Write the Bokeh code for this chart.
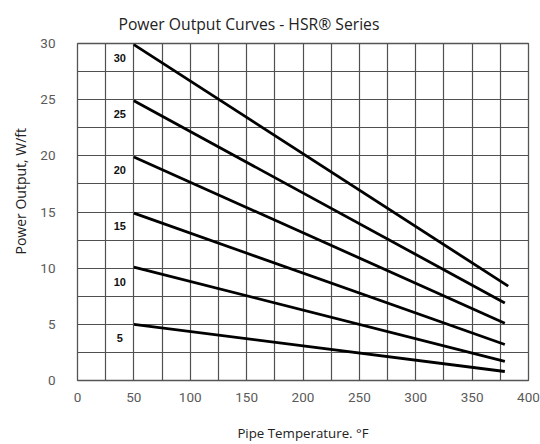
import numpy as np
from bokeh.plotting import figure
from bokeh.models import FixedTicker, Range1d, Title, ColumnDataSource
from bokeh.core.properties import value
from bokeh.embed import file_html
from bokeh.resources import INLINE

# ---- data ----
series_labels = ["30", "25", "20", "15", "10", "5"]
start_temp = [50, 50, 50, 50, 50, 50]
end_temp = [382, 379, 379, 379, 379, 379]
start_output = [29.9, 24.9, 19.9, 14.9, 10.1, 5.0]
end_output = [8.4, 6.9, 5.1, 3.2, 1.7, 0.8]
x_ticks = [0, 50, 100, 150, 200, 250, 300, 350, 400]
y_ticks = [0, 5, 10, 15, 20, 25, 30]
label_temp = 37.5
label_offset = 1.25
title_text = "Power Output Curves - HSR\u00ae Series"
y_title = "Power Output, W/ft"
x_title = "Pipe Temperature. \u00b0F"

p = figure(width=540, height=444, output_backend="svg", toolbar_location=None,
           x_range=Range1d(0, 400), y_range=Range1d(0, 30),
           min_border_left=76, min_border_right=12, min_border_top=43, min_border_bottom=62)

p.title.text = title_text
p.title.align = "left"
p.title.offset = 41
p.title.standoff = 18
p.title.text_font = "Open Sans"
p.title.text_font_size = "15.7px"
p.title.text_font_style = "normal"
p.title.text_color = "#222222"

p.add_layout(Title(text=y_title, align="left", offset=126, standoff=16,
                   text_font="Open Sans", text_font_size="14px",
                   text_font_style="normal", text_color="#222222"), "left")

p.outline_line_color = "#555555"
p.outline_line_width = 1.3
p.background_fill_color = "white"
p.border_fill_color = "white"

for ax in (p.xaxis, p.yaxis):
    ax.axis_line_color = None
    ax.major_tick_line_color = None
    ax.minor_tick_line_color = None
    ax.major_label_text_font = "Roboto"
    ax.major_label_text_font_size = "13.5px"
    ax.major_label_text_color = "#5a5a5a"

p.xaxis.ticker = FixedTicker(ticks=x_ticks)
p.yaxis.ticker = FixedTicker(ticks=y_ticks)
p.xaxis.major_label_standoff = 6
p.yaxis.major_label_standoff = 16
p.xaxis.axis_label = x_title
p.xaxis.axis_label_text_font = "Open Sans"
p.xaxis.axis_label_text_font_size = "13.3px"
p.xaxis.axis_label_text_font_style = "normal"
p.xaxis.axis_label_text_color = "#222222"
p.xaxis.axis_label_standoff = 19

p.xgrid.ticker = FixedTicker(ticks=list(np.arange(0, 401, 25)))
p.ygrid.ticker = FixedTicker(ticks=list(np.arange(0, 30.1, 2.5)))
for g in (p.xgrid, p.ygrid):
    g.grid_line_color = "#505050"
    g.grid_line_width = 1.2

xs = [[a, b] for a, b in zip(start_temp, end_temp)]
ys = [[a, b] for a, b in zip(start_output, end_output)]
p.multi_line(xs, ys, line_color="black", line_width=2.8)

lab_src = ColumnDataSource(dict(
    x=[label_temp] * len(series_labels),
    y=[float(s) - label_offset for s in series_labels],
    t=series_labels))
p.text(x="x", y="y", text="t", source=lab_src, text_align="center",
       text_baseline="middle", text_font=value("Liberation Sans"),
       text_font_size="11px", text_font_style="bold", text_color="#111111")

open("out.html", "w").write(file_html(p, INLINE))
